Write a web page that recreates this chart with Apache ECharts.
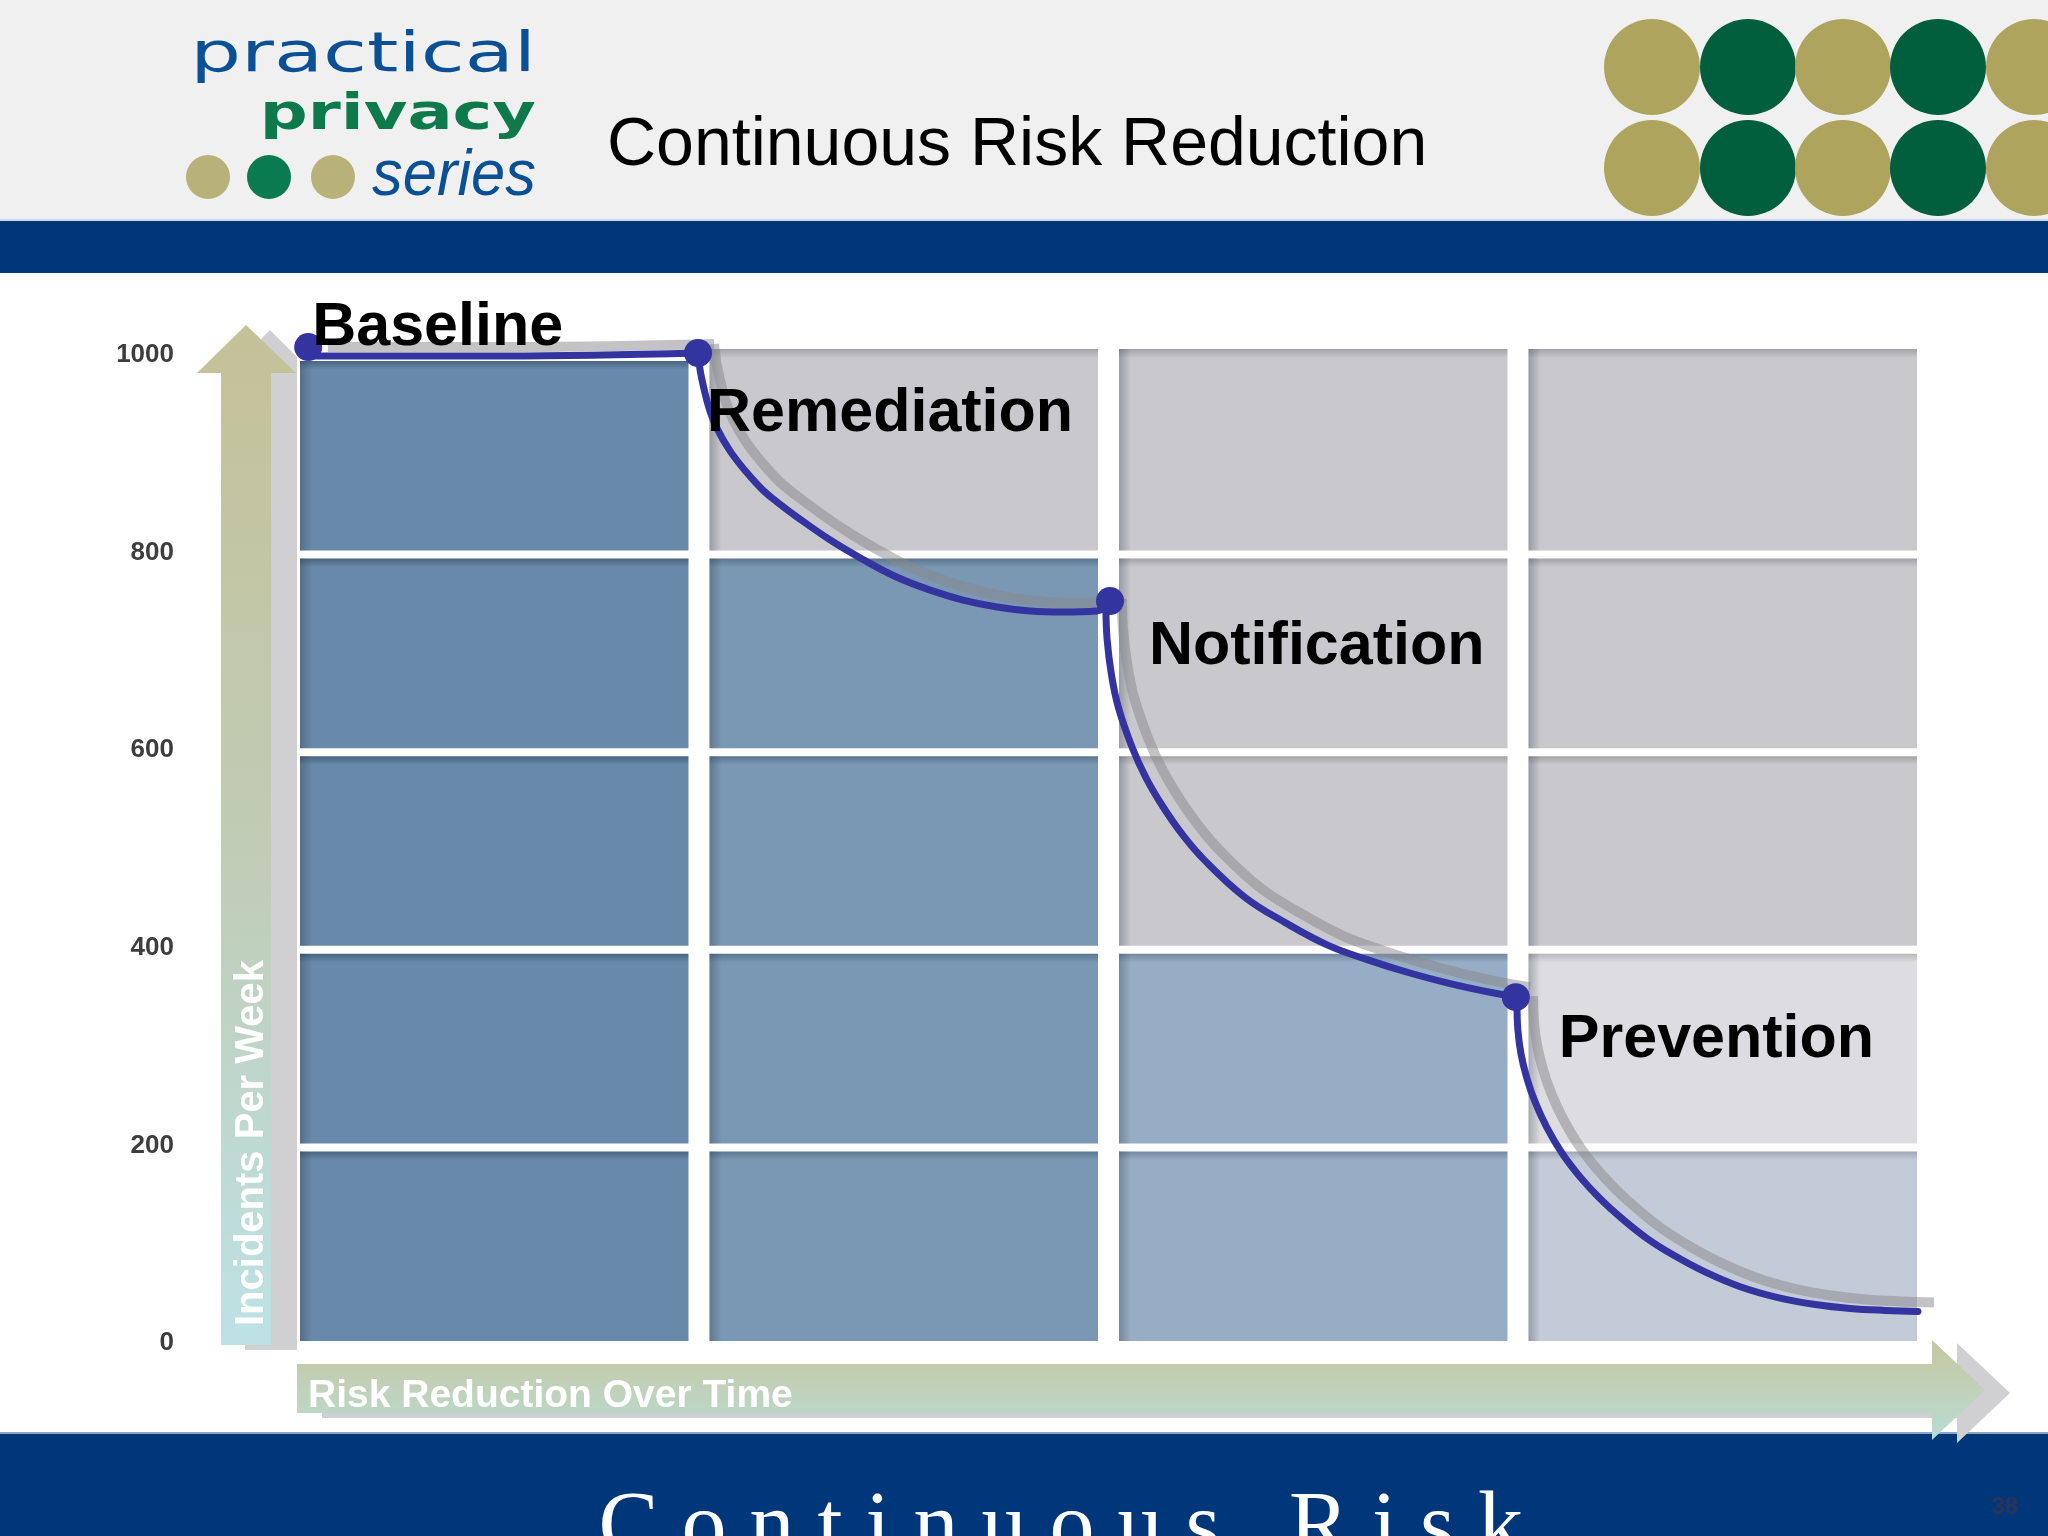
<!DOCTYPE html>
<html>
<head>
<meta charset="utf-8">
<script src="https://cdn.jsdelivr.net/npm/echarts@6/dist/echarts.min.js"></script>
<style>
html,body{margin:0;padding:0;background:#fff;}
#chart{width:2048px;height:1536px;}
</style>
</head>
<body>
<div id="chart"></div>
<script>
// ---------------- DATA ----------------
const stageNames = ['Baseline', 'Remediation', 'Notification', 'Prevention'];
const yTicks = [0, 200, 400, 600, 800, 1000];
const xStages = [0, 1, 2, 3, 4];

// stage markers [time position, incidents per week]
const stageMarkers = [[0.020, 1008], [0.972, 1002], [1.978, 751], [2.969, 350]];

// curve points [time position, incidents per week]
const baselineCurve = [[0.029, 999], [0.5, 999], [0.972, 1002]];
const remediationCurve = [[0.972, 1002], [0.977, 985], [0.987, 965], [0.999, 946], [1.018, 926],
  [1.050, 903], [1.089, 882], [1.131, 863], [1.172, 849], [1.214, 836], [1.294, 813], [1.375, 793],
  [1.458, 775], [1.539, 762], [1.619, 752], [1.702, 745], [1.783, 741], [1.863, 740], [1.946, 741],
  [1.973, 746]];
const notificationCurve = [[1.968, 744], [1.971, 712], [1.981, 678], [1.998, 644], [2.032, 603],
  [2.066, 572], [2.107, 543], [2.156, 514], [2.208, 489], [2.308, 451], [2.408, 425], [2.508, 403],
  [2.606, 388], [2.706, 375], [2.806, 364], [2.906, 355], [2.965, 351]];
const preventionCurve = [[2.972, 342], [2.974, 317], [2.982, 292], [2.996, 268], [3.016, 244],
  [3.045, 218], [3.082, 192], [3.126, 168], [3.175, 146], [3.228, 126], [3.289, 106], [3.358, 88],
  [3.431, 72], [3.517, 57], [3.609, 46], [3.700, 39], [3.785, 35], [3.871, 33], [3.951, 32]];

// grid cell tone per column (stage), rows from bottom (0-200) to top (800-1000)
const cellTone = [
  ['deep', 'deep', 'deep', 'deep', 'deep'],
  ['mid', 'mid', 'mid', 'mid', 'grey'],
  ['pale', 'pale', 'grey', 'grey', 'grey'],
  ['mist', 'light', 'grey', 'grey', 'grey']
];

// ---------------- STYLE ----------------
const toneStyle = {
  deep: { base: '#6889a9', edge: '#49647e' },
  mid: { base: '#7a97b3', edge: '#5a758f' },
  pale: { base: '#97adc5', edge: '#73879e' },
  grey: { base: '#c9c9cd', edge: '#a2a2a7' },
  light: { base: '#dddde1', edge: '#b7b7bc' },
  mist: { base: '#c4cbd8', edge: '#9fa6b3' }
};
const labelOffsets = [[-15, -19], [-10, 61], [20, 46], [24, 43]];
const lineColor = '#3434a0';
const shadowColor = 'rgba(135,135,140,0.5)';
const sans = '"Liberation Sans", Arial, sans-serif';

const curves = [baselineCurve, remediationCurve, notificationCurve, preventionCurve];
const rowStep = yTicks[1] - yTicks[0];
const topRow = yTicks.length - 2;

const cellList = [];
cellTone.forEach((col, c) => col.forEach((tone, r) => cellList.push({ col: c, row: r, tone: tone })));

const chart = echarts.init(document.getElementById('chart'), null, { renderer: 'canvas' });

function cellRender(params, api) {
  const cell = cellList[params.dataIndex];
  const p0 = api.coord([cell.col, (cell.row + 1) * rowStep]);
  const p1 = api.coord([cell.col + 1, cell.row * rowStep]);
  const lift = (cell.row === topRow && cell.col > 0) ? 12 : 0;
  const x = p0[0], y = p0[1] + 6 - lift;
  const w = p1[0] - p0[0] - 21, h = p1[1] - p0[1] - 8 + lift;
  const t = toneStyle[cell.tone];
  return {
    type: 'group',
    children: [
      { type: 'rect', shape: { x: x, y: y, width: w, height: h },
        style: { fill: new echarts.graphic.LinearGradient(0, 0, 0, 1, [
          { offset: 0, color: t.edge }, { offset: 0.045, color: t.base }, { offset: 1, color: t.base }]) } },
      { type: 'rect', shape: { x: x, y: y, width: 12, height: h },
        style: { fill: new echarts.graphic.LinearGradient(0, 0, 1, 0, [
          { offset: 0, color: 'rgba(40,50,70,0.30)' }, { offset: 1, color: 'rgba(40,50,70,0)' }]) } }
    ]
  };
}

const series = [];
series.push({
  type: 'custom', name: 'cells', xAxisIndex: 0, yAxisIndex: 0, z: 1,
  renderItem: cellRender,
  data: cellList.map(d => [d.col, d.row]),
  silent: true
});
curves.forEach((c, i) => {
  series.push({
    type: 'line', name: stageNames[i] + ' shadow', xAxisIndex: 1, yAxisIndex: 1, data: c,
    symbol: 'none', smooth: 0.4, clip: false, z: 3, silent: true,
    lineStyle: { color: shadowColor, width: 10, cap: 'butt' }
  });
});
curves.forEach((c, i) => {
  series.push({
    type: 'line', name: stageNames[i], xAxisIndex: 0, yAxisIndex: 0, data: c,
    symbol: 'none', smooth: 0.4, clip: false, z: 4, silent: true,
    lineStyle: { color: lineColor, width: 7, cap: 'round', opacity: 1 }
  });
});
series.push({
  type: 'scatter', name: 'stages', xAxisIndex: 0, yAxisIndex: 0, clip: false, z: 5,
  symbolSize: 28, itemStyle: { color: lineColor, opacity: 1 },
  data: stageMarkers.map((p, i) => ({
    value: p, name: stageNames[i],
    label: { show: true, position: 'right', distance: 5, offset: labelOffsets[i],
      formatter: stageNames[i], fontSize: 61, fontWeight: 'bold', fontFamily: sans, color: '#000000', opacity: 1 }
  }))
});

// header dots (decorative)
const headerDots = [];
const dotCx = [1652, 1748, 1843, 1938, 2034];
[67, 168].forEach(cy => dotCx.forEach((cx, k) => headerDots.push({
  type: 'circle', z: 1, shape: { cx: cx, cy: cy, r: 48 },
  style: { fill: k % 2 === 0 ? '#aea45e' : '#025f3e' }
})));

const footerText = 'Continuous Risk';
const footerRich = footerText.split('').map(ch => '{c|' + ch + '}').join('');

const option = {
  animation: false,
  backgroundColor: '#ffffff',
  grid: [
    { left: 300, right: 110, top: 355, bottom: 193 },
    { left: 316, right: 94, top: 346, bottom: 202 }
  ],
  xAxis: [
    { type: 'value', gridIndex: 0, min: xStages[0], max: xStages[xStages.length - 1], show: false },
    { type: 'value', gridIndex: 1, min: xStages[0], max: xStages[xStages.length - 1], show: false }
  ],
  yAxis: [
    { type: 'value', gridIndex: 0, min: yTicks[0], max: yTicks[yTicks.length - 1], interval: rowStep,
      axisLine: { show: false }, axisTick: { show: false }, splitLine: { show: false },
      axisLabel: { margin: 126, fontSize: 26, fontWeight: 'bold', fontFamily: sans, color: '#3d3d3d',
        formatter: v => String(v) } },
    { type: 'value', gridIndex: 1, min: yTicks[0], max: yTicks[yTicks.length - 1], show: false }
  ],
  graphic: { elements: [
    // header
    { type: 'rect', z: 0, shape: { x: 0, y: 0, width: 2048, height: 221 }, style: { fill: '#f0f0f1' } },
    { type: 'rect', z: 0, shape: { x: 0, y: 221, width: 2048, height: 52 }, style: { fill: '#00377a' } },
    { type: 'rect', z: 0, shape: { x: 0, y: 219, width: 2048, height: 2 }, style: { fill: '#d3d7df' } },
    // footer band
    { type: 'rect', z: 0, shape: { x: 0, y: 1433, width: 2048, height: 103 }, style: { fill: '#00377b' } },
    { type: 'rect', z: 0, shape: { x: 0, y: 1432, width: 2048, height: 2 }, style: { fill: '#8fa3c6' } },
    ...headerDots,
    // logo
    { type: 'text', z: 2, x: 536, y: 56, scaleX: 1.43,
      style: { text: 'practical', font: '56px "DejaVu Sans"', fill: '#0b4f95', align: 'right', verticalAlign: 'middle' } },
    { type: 'text', z: 2, x: 536, y: 116, scaleX: 1.34,
      style: { text: 'privacy', font: 'bold 50px "DejaVu Sans"', fill: '#0e7a4c', align: 'right', verticalAlign: 'middle' } },
    { type: 'text', z: 2, x: 536, y: 177, scaleX: 0.96,
      style: { text: 'series', font: 'italic 64px ' + sans, fill: '#0b4f95', align: 'right', verticalAlign: 'middle' } },
    { type: 'circle', z: 2, shape: { cx: 208, cy: 177, r: 22 }, style: { fill: '#b8b27a' } },
    { type: 'circle', z: 2, shape: { cx: 269, cy: 177, r: 22 }, style: { fill: '#0a7a50' } },
    { type: 'circle', z: 2, shape: { cx: 333, cy: 177, r: 22 }, style: { fill: '#b8b27a' } },
    // title
    { type: 'text', z: 2, x: 607, y: 146,
      style: { text: 'Continuous Risk Reduction', font: '68px ' + sans, fill: '#000', align: 'left', verticalAlign: 'middle' } },
    // y axis arrow
    { type: 'polygon', z: 1, shape: { points: [[245, 1350], [245, 378], [222, 378], [270, 330], [297, 357], [297, 1350]] },
      style: { fill: '#d0d0d2' } },
    { type: 'polygon', z: 1, shape: { points: [[221, 1345], [221, 373], [197, 373], [246, 325], [296, 373], [271, 373], [271, 1345]] },
      style: { fill: new echarts.graphic.LinearGradient(0, 0, 0, 1, [
        { offset: 0, color: '#c4c197' }, { offset: 0.55, color: '#c0cdb8' }, { offset: 1, color: '#bde2e5' }]) } },
    { type: 'text', z: 3, x: 252, y: 1326, rotation: Math.PI / 2,
      style: { text: 'Incidents Per Week', font: 'bold 40px ' + sans, fill: '#ffffff', align: 'left', verticalAlign: 'middle' } },
    // x axis arrow
    { type: 'polygon', z: 1, shape: { points: [[322, 1369], [1957, 1369], [1957, 1343], [2010, 1393], [1957, 1443], [1957, 1418], [322, 1418]] },
      style: { fill: '#d0d0d2' } },
    { type: 'polygon', z: 1, shape: { points: [[297, 1364], [1932, 1364], [1932, 1340], [1985, 1390], [1932, 1440], [1932, 1413], [297, 1413]] },
      style: { fill: new echarts.graphic.LinearGradient(0, 0, 0, 1, [
        { offset: 0, color: '#c6c7a0' }, { offset: 1, color: '#b9dcd4' }]) } },
    { type: 'text', z: 3, x: 308, y: 1396,
      style: { text: 'Risk Reduction Over Time', font: 'bold 39px ' + sans, fill: '#ffffff', align: 'left', verticalAlign: 'middle' } },
    // footer text
    { type: 'text', z: 3, x: 587, y: 1530,
      style: { text: footerRich, align: 'left', verticalAlign: 'middle',
        rich: { c: { fontFamily: '"Liberation Serif", "Times New Roman", serif', fontSize: 90, fill: '#ffffff', color: '#ffffff', padding: [0, 11.5, 0, 11.5] } } } },
    { type: 'text', z: 3, x: 2005, y: 1507,
      style: { text: '38', font: 'bold 24px ' + sans, fill: '#2a3556', align: 'center', verticalAlign: 'middle' } }
  ] },
  series: series
};
chart.setOption(option);
</script>
</body>
</html>
